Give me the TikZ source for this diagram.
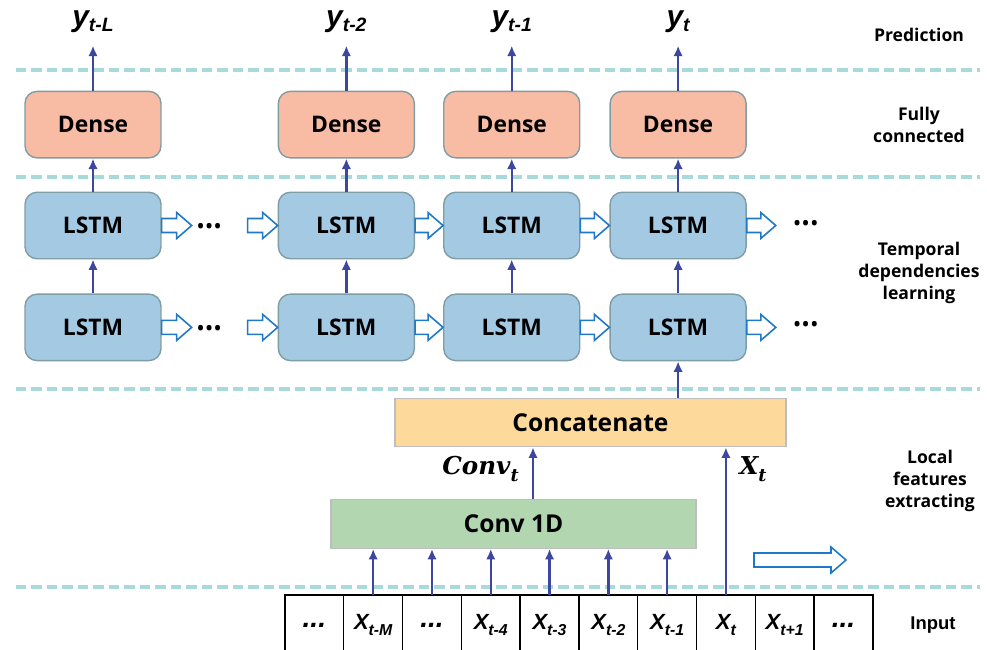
\documentclass[tikz,border=0pt]{standalone}
\usepackage{fontspec}
\usepackage{amsmath}
\setmainfont{Open Sans}
\newfontfamily\arialf{Liberation Sans}
\newfontfamily\mathlike{DejaVu Serif}
\usetikzlibrary{positioning, arrows.meta, calc}

\definecolor{dashcol}{RGB}{168,218,220}
\definecolor{flowcol}{RGB}{61,71,160}
\definecolor{hollowcol}{RGB}{31,120,200}
\definecolor{densefill}{RGB}{248,188,164}
\definecolor{lstmfill}{RGB}{164,201,227}
\definecolor{boxline}{RGB}{127,157,164}
\definecolor{concatfill}{RGB}{253,217,155}
\definecolor{convfill}{RGB}{177,214,176}
\definecolor{flatline}{RGB}{190,190,190}

\newcommand\xsub[1]{X\raisebox{-0.45ex}{\fontsize{9}{9}\selectfont #1}}
\newcommand\ysub[1]{y\raisebox{-0.35ex}{\fontsize{11}{11}\selectfont #1}}
\newcommand\msub[2]{#1\raisebox{-0.5ex}{\fontsize{10}{10}\selectfont #2}}
\newcommand\celldots{{\fontsize{16}{16}\selectfont ...}}

\begin{document}
\begin{tikzpicture}[x=0.02cm, y=-0.02cm,
  rnnbox/.style={draw=boxline, line width=0.8pt, rounded corners=0.24cm, minimum width=2.72cm, minimum height=1.33cm, font=\bfseries\fontsize{13}{13}\selectfont},
  dense/.style={rnnbox, fill=densefill},
  lstm/.style={rnnbox, fill=lstmfill},
  flatbox/.style={draw=flatline, line width=0.8pt, minimum height=0.97cm, font=\bfseries\fontsize{14}{14}\selectfont},
  cell/.style={draw, line width=0.8pt, outer sep=0pt, minimum width=1.176cm, minimum height=1.2cm, inner sep=0pt, font=\arialf\bfseries\itshape\fontsize{12.5}{12.5}\selectfont},
  ylbl/.style={inner sep=0pt, font=\arialf\bfseries\itshape\fontsize{17}{17}\selectfont},
  mlbl/.style={inner sep=0pt, font=\mathlike\bfseries\itshape\fontsize{14}{14}\selectfont},
  layer/.style={align=center, font=\bfseries\fontsize{10}{12.5}\selectfont},
  dots/.style={inner sep=0pt, font=\fontsize{13}{13}\selectfont},
  flow/.style={-{Latex[length=2.1mm,width=1.9mm]}, draw=flowcol, line width=1.4pt},
  fat/.style={draw=hollowcol, fill=white, line width=0.9pt,
    to path={let \p1=(\tikztostart), \p2=(\tikztotarget) in
      (\x1,\y1+0.14cm) -- (\x2-0.3cm,\y1+0.14cm) -- (\x2-0.3cm,\y1+0.26cm) -- (\x2,\y1)
      -- (\x2-0.3cm,\y1-0.26cm) -- (\x2-0.3cm,\y1-0.14cm) -- (\x1,\y1-0.14cm) -- cycle}}
]
  \useasboundingbox (0,0) rectangle (987,649);

  % layer separators
  \foreach \yy in {70,177,389,587}
    \draw[dashcol, line width=2.3pt, dash pattern=on 0.21cm off 0.1cm] (16,\yy) -- (980,\yy);

  % recurrent part
  \node[lstm] (l11) at (93,225.5) {LSTM};
  \node[lstm, right=2.32cm of l11] (l12) {LSTM};
  \node[lstm, right=0.56cm of l12] (l13) {LSTM};
  \node[lstm, right=0.58cm of l13] (l14) {LSTM};
  \node[lstm, below=0.68cm of l11] (l21) {LSTM};
  \node[lstm, below=0.68cm of l12] (l22) {LSTM};
  \node[lstm, below=0.68cm of l13] (l23) {LSTM};
  \node[lstm, below=0.68cm of l14] (l24) {LSTM};
  \node[dense, above=0.66cm of l11] (d1) {Dense};
  \node[dense, above=0.66cm of l12] (d2) {Dense};
  \node[dense, above=0.66cm of l13] (d3) {Dense};
  \node[dense, above=0.66cm of l14] (d4) {Dense};

  \node[ylbl, above=1.16cm of d1] (y1) {\ysub{t-L}};
  \node[ylbl, above=1.16cm of d2] (y2) {\ysub{t-2}};
  \node[ylbl, above=1.16cm of d3] (y3) {\ysub{t-1}};
  \node[ylbl, above=1.16cm of d4] (y4) {\ysub{t}};

  \foreach \k in {1,2,3,4} {
    \draw[flow, shorten >=0.26cm] (d\k) -- (y\k);
    \draw[flow] (l1\k) -- (d\k);
    \draw[flow] (l2\k) -- (l1\k);
  }

  % hidden state passing
  \foreach \r in {1,2} {
    \coordinate (a\r1) at ([xshift=0.6cm]l\r1.east);
    \coordinate (b\r2) at ([xshift=-0.6cm]l\r2.west);
    \coordinate (a\r4) at ([xshift=0.58cm]l\r4.east);
    \node[dots] (e\r1) at ([xshift=0.95cm,yshift=-0.07cm]l\r1.east) {\textbullet\textbullet\textbullet};
    \node[dots] (e\r4) at ([xshift=1.18cm]l\r4.east) {\textbullet\textbullet\textbullet};
    \draw[fat] (l\r1.east) to (a\r1);
    \draw[fat] (b\r2) to (l\r2.west);
    \draw[fat] (l\r2.east) to (l\r3.west);
    \draw[fat] (l\r3.east) to (l\r4.west);
    \draw[fat] (l\r4.east) to (a\r4);
  }

  % local features
  \node[flatbox, fill=concatfill, minimum width=7.82cm] (concat) at (590.5,422.5) {Concatenate};
  \node[flatbox, fill=convfill, minimum width=7.3cm] (conv) at (513.5,524) {Conv 1D};
  \draw[flow] (concat.north -| l24.south) -- (l24.south);
  \draw[flow] ([xshift=0.39cm]conv.north) -- ([xshift=0.39cm]conv.north |- concat.south);
  \node[mlbl, anchor=east] (convlbl) at (519,469) {\msub{Conv}{t}};

  % input sequence
  \node[cell, anchor=north west] (c1) at (285,595) {\celldots};
  \node[cell, right=0pt of c1] (c2) {\xsub{t-M}};
  \node[cell, right=0pt of c2] (c3) {\celldots};
  \node[cell, right=0pt of c3] (c4) {\xsub{t-4}};
  \node[cell, right=0pt of c4] (c5) {\xsub{t-3}};
  \node[cell, right=0pt of c5] (c6) {\xsub{t-2}};
  \node[cell, right=0pt of c6] (c7) {\xsub{t-1}};
  \node[cell, right=0pt of c7] (c8) {\xsub{t}};
  \node[cell, right=0pt of c8] (c9) {\xsub{t+1}};
  \node[cell, right=0pt of c9] (c10) {\celldots};
  \foreach \i in {2,3,4,5,6,7}
    \draw[flow] (c\i.north) -- (c\i.north |- conv.south);
  \draw[flow] (c8.north) -- (c8.north |- concat.south);
  \node[mlbl, anchor=west] (xlbl) at (739,469) {\msub{X}{t}};

  \coordinate (s1) at (754,560);
  \coordinate (s2) at (846,560);
  \draw[fat] (s1) to (s2);

  % layer names
  \node[layer] (lpred) at (919,35) {Prediction};
  \node[layer] (lfc) at (919,125) {Fully\\connected};
  \node[layer] (ltemp) at (919,273) {Temporal\\dependencies\\learning};
  \node[layer] (lloc) at (930,481) {Local\\features\\extracting};
  \node[layer, font=\arialf\bfseries\fontsize{10.5}{12}\selectfont] (lin) at (933,625) {Input};
\end{tikzpicture}
\end{document}
